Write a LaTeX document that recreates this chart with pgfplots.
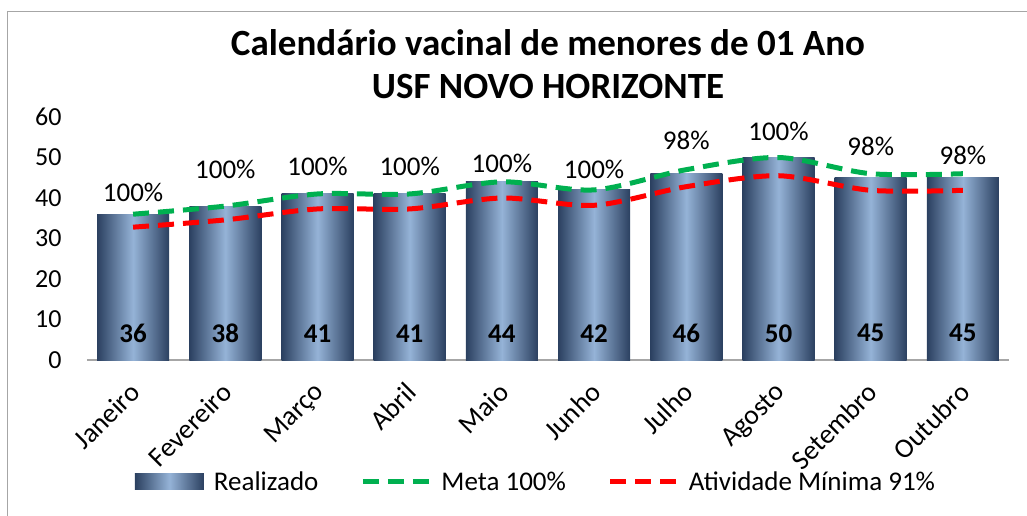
\documentclass[border=0pt]{standalone}
\usepackage{pgfplots}
\pgfplotsset{compat=1.18}
\usepackage{fontspec}
\setmainfont{Carlito}
\definecolor{navyc}{HTML}{2B4060}
\definecolor{lightc}{HTML}{95B3D7}
\definecolor{metac}{HTML}{00B050}
\definecolor{minc}{HTML}{FF0000}
\pgfplotsset{
  linelegend/.style={legend image code/.code={\draw[##1] (0pt,0pt) -- (66pt,0pt);}},
  barlegend/.style={legend image code/.code={\fill[left color=navyc, right color=navyc, middle color=lightc] (0pt,-8pt) rectangle (69pt,8pt);}},
  barsty/.style={ybar, bar width=72pt, bar shift=0pt, draw=none, left color=navyc, right color=navyc, middle color=lightc},
}
\begin{document}
\begin{tikzpicture}
\useasboundingbox (-87pt,-155pt) rectangle (940pt,360pt);
\draw[gray!70, line width=1pt] (-79pt,-170pt) -- (-79pt,348pt) -- (960pt,348pt);
\begin{axis}[
  scale only axis,
  width=922pt, height=243pt,
  xmin=-0.5, xmax=9.5,
  ymin=0, ymax=60,
  ytick={0,10,...,60},
  xtick={0,...,9},
  xticklabels={Janeiro,Fevereiro,Março,Abril,Maio,Junho,Julho,Agosto,Setembro,Outubro},
  axis lines*=left,
  x axis line style={draw=gray!70, line width=1.5pt, -},
  y axis line style={draw=none},
  major tick length=0pt,
  tick style={draw=none},
  /pgf/number format/assume math mode=true,
  yticklabel style={xshift=-22pt, font=\fontsize{26}{28}\selectfont},
  xticklabel style={xshift=-5pt, yshift=-16pt, rotate=45, anchor=north east, font=\fontsize{27.5}{30}\selectfont},
  title={Calendário vacinal de menores de 01 Ano\\USF NOVO HORIZONTE},
  title style={at={(0.5,1)}, anchor=south, yshift=12pt, inner sep=0pt, align=center, font=\bfseries\fontsize{37}{43}\selectfont},
  legend style={at={(0.487,-0.502)}, anchor=center, draw=none, fill=none,
    legend columns=3, font=\fontsize{27}{30}\selectfont,
    /tikz/every odd column/.append style={column sep=8pt},
    /tikz/every even column/.append style={column sep=40pt},
    legend cell align=left},
  clip=false,
]
\addplot[barsty, barlegend] coordinates {(0,36)};
\addlegendentry{Realizado}
\addplot[barsty, forget plot] coordinates {(1,38)};
\addplot[barsty, forget plot] coordinates {(2,41)};
\addplot[barsty, forget plot] coordinates {(3,41)};
\addplot[barsty, forget plot] coordinates {(4,44)};
\addplot[barsty, forget plot] coordinates {(5,42)};
\addplot[barsty, forget plot] coordinates {(6,46)};
\addplot[barsty, forget plot] coordinates {(7,50)};
\addplot[barsty, forget plot] coordinates {(8,45)};
\addplot[barsty, forget plot] coordinates {(9,45)};
\addplot[smooth, color=metac, line width=5pt, dash pattern=on 16pt off 9pt, linelegend]
  coordinates {(0,36) (1,38) (2,41) (3,41) (4,44) (5,42) (6,47) (7,50) (8,46) (9,46)};
\addlegendentry{Meta 100\%}
\addplot[smooth, color=minc, line width=5pt, dash pattern=on 16pt off 9pt, linelegend]
  coordinates {(0,32.8) (1,34.6) (2,37.3) (3,37.3) (4,40.0) (5,38.2) (6,42.8) (7,45.5) (8,41.9) (9,41.9)};
\addlegendentry{Atividade Mínima 91\%}
\addplot[forget plot, only marks, mark=*, mark size=0pt, nodes near coords, point meta=explicit symbolic,
  nodes near coords style={anchor=center, font=\fontsize{27}{30}\selectfont, text=black}]
  table[meta=lab] {
x y lab
0 41.5 100\%
1 47.0 100\%
2 47.7 100\%
3 47.7 100\%
4 48.6 100\%
5 47.0 100\%
6 54.3 98\%
7 56.5 100\%
8 52.8 98\%
9 50.6 98\%
};
\addplot[forget plot, only marks, mark=*, mark size=0pt, nodes near coords, point meta=explicit symbolic,
  nodes near coords style={anchor=center, font=\bfseries\fontsize{27}{30}\selectfont, text=black}]
  table[meta=lab] {
x y lab
0 6.6 36
1 6.6 38
2 6.6 41
3 6.6 41
4 6.6 44
5 6.6 42
6 6.6 46
7 6.6 50
8 6.6 45
9 6.6 45
};
\end{axis}
\end{tikzpicture}
\end{document}
